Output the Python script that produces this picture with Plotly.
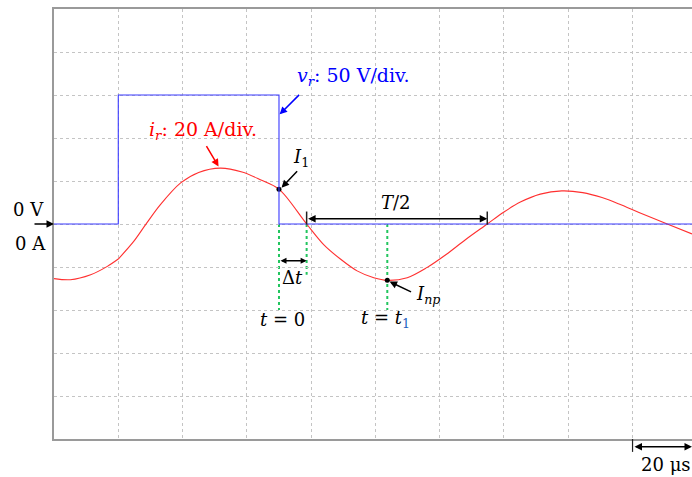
import plotly.graph_objects as go

# Time base: 20 us/div, t = 0 at the falling edge of v_r
t_min, t_max = -70.0, 128.5

# Resonant current i_r (A), read at 20 A/div; split at the rising edge of v_r
t_i_pre = [-70.0, -64.9, -58.6, -53.4, -50.0]
i_pre = [-25.4, -25.9, -23.6, -19.7, -16.3]

t_i = [-50.0, -45.2, -41.5, -36.9, -30.6, -25.0, -18.2, -11.5, -5.8, 0.0,
       8.6, 13.9, 19.1, 24.3, 29.5, 33.7, 39.9, 46.0, 52.0, 58.0,
       64.8, 70.0, 75.1, 81.3, 88.0, 94.5, 100.5, 106.0, 112.0, 120.8, 128.5]
i_r = [-16.3, -8.1, -0.3, 9.0, 19.1, 24.0, 26.0, 24.2, 20.6, 16.2,
       0.0, -9.6, -16.3, -21.8, -25.0, -26.2, -25.0, -20.3, -14.2, -7.3,
       0.0, 5.6, 10.2, 13.9, 15.4, 14.6, 12.3, 9.2, 5.4, 0.0, -4.6]

# Resonant voltage v_r (V), 50 V/div
t_v = [-70.0, -50.0, -50.0, 0.0, 0.0, 128.5]
v_r = [0, 0, 150, 150, 0, 0]

# Marked instants
t_zero = 0.0      # t = 0
t_cross = 8.6     # first zero crossing of i_r
t_1 = 33.7        # t = t1, negative peak
t_half = 64.8     # next zero crossing (T/2 after t_cross)
I_1 = 16.2
I_np = -26.2

SERIF = "DejaVu Serif"
RED = "#ff3030"
BLUE = "#3a3aff"
GREEN = "#22c55e"

fig = go.Figure()

fig.add_trace(go.Scatter(x=t_i_pre, y=i_pre, mode="lines",
                         line=dict(color=RED, width=1.1, shape="spline", smoothing=0.9),
                         hoverinfo="skip"))
fig.add_trace(go.Scatter(x=t_i, y=i_r, mode="lines",
                         line=dict(color=RED, width=1.1, shape="spline", smoothing=0.9),
                         hoverinfo="skip"))
fig.add_trace(go.Scatter(x=t_v, y=v_r, mode="lines", yaxis="y2",
                         line=dict(color=BLUE, width=1.1), hoverinfo="skip"))

# Green markers of the instants
for tx, y1 in [(t_zero, -40), (t_cross, -23.6), (t_1, -40)]:
    fig.add_shape(type="line", xref="x", yref="y", x0=tx, x1=tx, y0=0, y1=y1,
                  line=dict(color=GREEN, width=2, dash="dot"), layer="below")

# Points I1 and Inp
fig.add_trace(go.Scatter(x=[t_zero, t_1], y=[I_1, I_np], mode="markers",
                         marker=dict(color="black", size=5), hoverinfo="skip"))

# Bars at the ends of the T/2 arrow
for tx in [t_cross, t_half]:
    fig.add_shape(type="line", xref="x", yref="y", x0=tx, x1=tx, y0=-0.3, y1=5.8,
                  line=dict(color="#222", width=1.5))

# 20 us scale tick below the frame
fig.add_shape(type="line", xref="x", yref="paper", x0=110, x1=110, y0=0, y1=-0.03,
              line=dict(color="#222", width=1.2))

ann = []


def arrow(x, y, ax, ay, color="black", width=1.5, size=1.0, **kw):
    d = dict(x=x, y=y, ax=ax, ay=ay, xref="x", yref="y", text="", showarrow=True,
             arrowhead=2, arrowsize=size, arrowwidth=width, arrowcolor=color,
             standoff=0, startstandoff=0)
    d.update(kw)
    ann.append(d)


def label(x, y, text, color="black", size=18, xref="x", yref="y", **kw):
    d = dict(x=x, y=y, xref=xref, yref=yref, text=text, showarrow=False,
             font=dict(family=SERIF, size=size, color=color))
    d.update(kw)
    ann.append(d)


# Pointer arrows
arrow(0.2, 51.0, 21, -21, color="blue")
arrow(-18.8, 26.7, -13, -22, color="red")
arrow(0.8, 16.9, 17, -18)
arrow(t_1 + 0.7, I_np - 0.6, 23, 11)

# T/2 and delta-t double arrows
arrow(t_half, 2.5, t_cross, 2.5, axref="x", ayref="y", arrowside="end+start",
      startarrowhead=2, startarrowsize=1.0)
arrow(t_cross, -17.1, t_zero, -17.1, axref="x", ayref="y", arrowside="end+start",
      startarrowhead=2, startarrowsize=0.8, size=0.8)

# 0 V / 0 A reference arrow at the left frame
ann.append(dict(x=t_min, y=0, xref="x", yref="y", ax=-21, ay=0, text="",
                showarrow=True, arrowhead=2, arrowsize=1, arrowwidth=1.5,
                arrowcolor="black", standoff=0))

# 20 us scale arrow
ann.append(dict(x=t_max, y=-0.018, xref="x", yref="paper", ax=-59, ay=0, text="",
                showarrow=True, arrowhead=2, arrowsize=1, arrowwidth=1.5,
                arrowside="end+start", startarrowhead=2, arrowcolor="black",
                standoff=0, startstandoff=0))

# Labels
label(23.2, 68.5, "<i>v<sub>r</sub></i>: 50 V/div.", color="blue", size=19)
label(-23.6, 43.4, "<i>i<sub>r</sub></i>: 20 A/div.", color="red", size=19)
label(6.9, 30.8, "<i>I</i><sub>1</sub>")
label(36.5, 9.9, "<i>T</i>/2")
label(4.2, -25.0, "Δ<i>t</i>")
label(1.1, -44.5, "<i>t</i> = 0")
label(33.1, -44.3, "<i>t</i> = <i>t</i><sub><span style='color:#1f5fbf'>1</span></sub>")
label(46.5, -32.8, "<i>I<sub>np</sub></i>")
label(-0.013, 0.533, "0 V", xref="paper", yref="paper", xanchor="right", yanchor="middle")
label(-0.009, 0.4535, "0 A", xref="paper", yref="paper", xanchor="right", yanchor="middle")
label(120.5, -0.06, "20 μs", yref="paper", xanchor="center", yanchor="middle")

fig.update_layout(
    width=692, height=477,
    margin=dict(l=54, r=0, t=9, b=38),
    paper_bgcolor="white", plot_bgcolor="white",
    showlegend=False,
    annotations=ann,
    xaxis=dict(range=[t_min, t_max], tick0=-70, dtick=20, showgrid=True,
               gridcolor="#c4c4c4", gridwidth=1, griddash="dot",
               showticklabels=False, ticks="", zeroline=False,
               showline=True, linecolor="#9a9a9a", linewidth=2, mirror=True),
    yaxis=dict(range=[-100, 100], tick0=0, dtick=20, showgrid=True,
               gridcolor="#c4c4c4", gridwidth=1, griddash="dot",
               showticklabels=False, ticks="", zeroline=False,
               showline=True, linecolor="#9a9a9a", linewidth=2),
    yaxis2=dict(range=[-250, 250], overlaying="y", showgrid=False,
                showticklabels=False, ticks="", zeroline=False, showline=False),
)

fig.write_html("out.html")
